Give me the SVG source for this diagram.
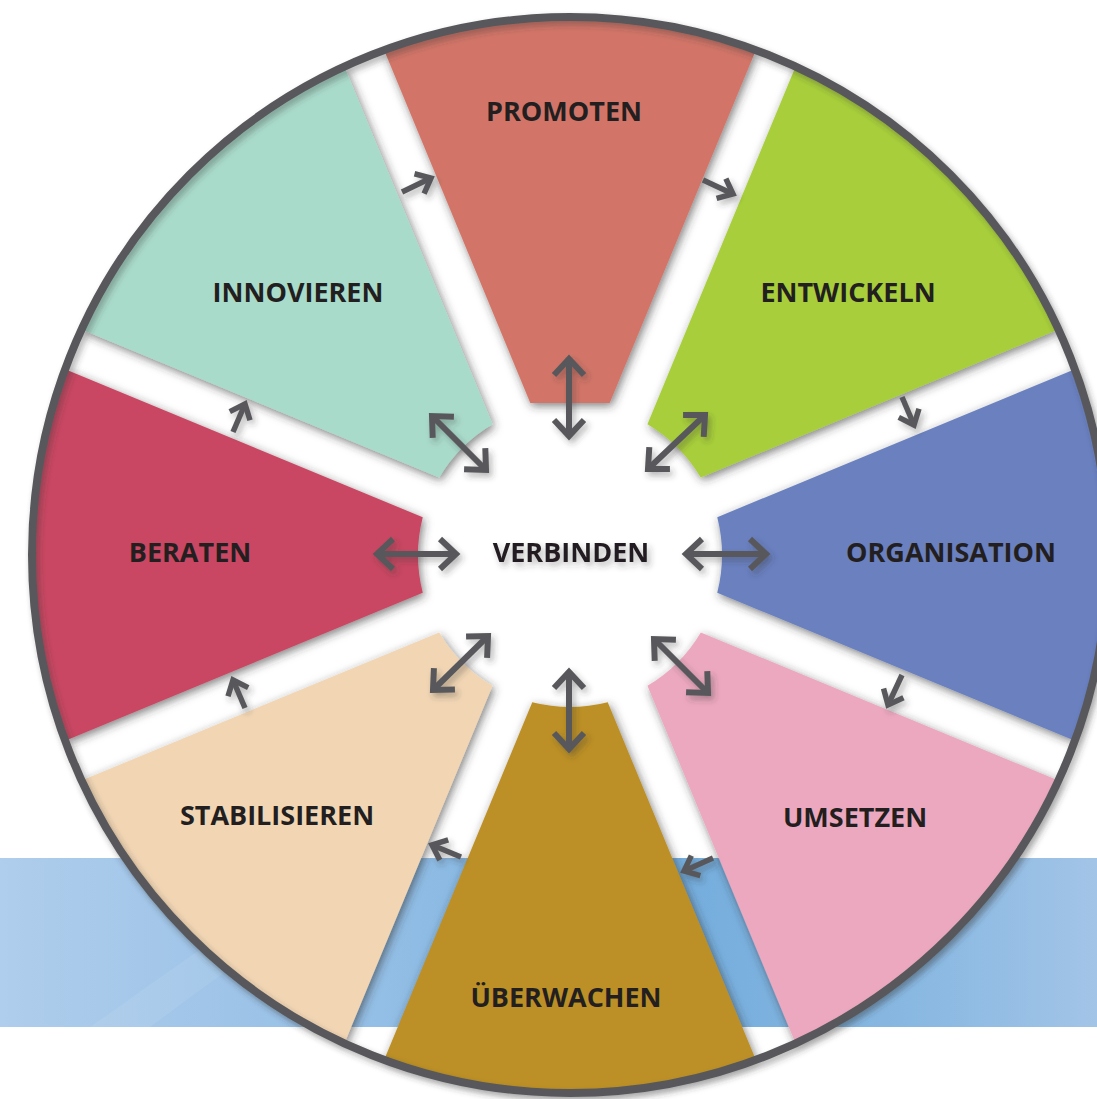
<svg xmlns="http://www.w3.org/2000/svg" xmlns:xlink="http://www.w3.org/1999/xlink" width="1097" height="1099" viewBox="0 0 1097 1099">
  <style>
    .label { font-family: "Open Sans", "Noto Sans", "Liberation Sans", sans-serif; font-weight: 700; font-size: 27px; fill: #231f20; text-anchor: middle; }
    .big { fill: none; stroke: #58595b; stroke-width: 6; marker-start: url(#headBig); marker-end: url(#headBig); }
    .small { fill: none; stroke: #58595b; stroke-width: 5.5; marker-end: url(#headSmall); }
  </style>
  <defs>
    <linearGradient id="band" x1="0" y1="0" x2="1" y2="0">
      <stop offset="0" stop-color="#afcdec"/>
      <stop offset="0.35" stop-color="#93bee5"/>
      <stop offset="0.6" stop-color="#72acdc"/>
      <stop offset="0.85" stop-color="#8bb9e2"/>
      <stop offset="1" stop-color="#a2c4e7"/>
    </linearGradient>
    <filter id="shadow" x="-20%" y="-20%" width="140%" height="140%">
      <feDropShadow dx="2" dy="3" stdDeviation="5" flood-color="#2d2d2d" flood-opacity="0.6"/>
    </filter>
    <filter id="softShadow" x="-30%" y="-30%" width="160%" height="160%">
      <feDropShadow dx="3" dy="4" stdDeviation="3" flood-color="#333" flood-opacity="0.35"/>
    </filter>
    <!-- sector wedge, pointing up, centred on the wheel hub -->
    <path id="wedge" d="M -37.72 -147.25 L -185.09 -503.03 A 536 536 0 0 1 185.09 -503.03 L 37.72 -147.25 A 152 152 0 0 0 -37.72 -147.25 Z"/>
    <marker id="headBig" markerUnits="userSpaceOnUse" viewBox="-30 -30 40 60" refX="0" refY="0" markerWidth="40" markerHeight="60" orient="auto-start-reverse" overflow="visible">
      <path d="M -16 -15 L 0 0 L -16 15" fill="none" stroke="#58595b" stroke-width="6"/>
    </marker>
    <marker id="headSmall" markerUnits="userSpaceOnUse" viewBox="-25 -25 35 50" refX="0" refY="0" markerWidth="35" markerHeight="50" orient="auto" overflow="visible">
      <path d="M -13 -11 L 0 0 L -13 11" fill="none" stroke="#58595b" stroke-width="5.5"/>
    </marker>
  </defs>

  <rect width="1097" height="1099" fill="#ffffff"/>
  <!-- blue band behind the wheel -->
  <rect x="0" y="858" width="1097" height="169" fill="url(#band)"/>
  <polygon points="90,1027 330,858 380,858 150,1027" fill="#ffffff" opacity="0.08"/>

  <!-- sectors -->
  <g id="promoten">
    <g filter="url(#shadow)">
      <path transform="translate(570 555)" d="M -39.7 -152 L -185.09 -503.03 A 536 536 0 0 1 185.09 -503.03 L 39.7 -152 Z" fill="#d27567"/>
    </g>
    <text class="label" x="564" y="121">PROMOTEN</text>
  </g>
  <g id="entwickeln">
    <g filter="url(#shadow)">
      <use href="#wedge" transform="translate(570 555) rotate(45)" fill="#a8cf3a"/>
    </g>
    <text class="label" x="848" y="302">ENTWICKELN</text>
  </g>
  <g id="organisation">
    <g filter="url(#shadow)">
      <use href="#wedge" transform="translate(570 555) rotate(90)" fill="#6a80bf"/>
    </g>
    <text class="label" x="951" y="562">ORGANISATION</text>
  </g>
  <g id="umsetzen">
    <g filter="url(#shadow)">
      <use href="#wedge" transform="translate(570 555) rotate(135)" fill="#eca8bf"/>
    </g>
    <text class="label" x="855" y="827">UMSETZEN</text>
  </g>
  <g id="ueberwachen">
    <g filter="url(#shadow)">
      <use href="#wedge" transform="translate(570 555) rotate(180)" fill="#bc9028"/>
    </g>
    <text class="label" x="566" y="1007">ÜBERWACHEN</text>
  </g>
  <g id="stabilisieren">
    <g filter="url(#shadow)">
      <use href="#wedge" transform="translate(570 555) rotate(225)" fill="#f2d6b4"/>
    </g>
    <text class="label" x="277" y="825">STABILISIEREN</text>
  </g>
  <g id="beraten">
    <g filter="url(#shadow)">
      <use href="#wedge" transform="translate(570 555) rotate(270)" fill="#c94762"/>
    </g>
    <text class="label" x="190" y="562">BERATEN</text>
  </g>
  <g id="innovieren">
    <g filter="url(#shadow)">
      <use href="#wedge" transform="translate(570 555) rotate(315)" fill="#a9dbcb"/>
    </g>
    <text class="label" x="298" y="302">INNOVIEREN</text>
  </g>

  <!-- wheel rim -->
  <circle cx="570" cy="555" r="538" fill="none" stroke="#58595b" stroke-width="8" filter="url(#softShadow)"/>

  <!-- hub -->
  <g id="verbinden">
    <text class="label" x="571" y="562" filter="url(#softShadow)">VERBINDEN</text>
  </g>

  <!-- connectors -->
  <g id="connectors" filter="url(#softShadow)">
    <!-- hub to each sector, two-way -->
    <line class="big" x1="569" y1="436" x2="569" y2="359"/>
    <line class="big" x1="569" y1="672" x2="569" y2="749"/>
    <line class="big" x1="456" y1="554" x2="377" y2="554"/>
    <line class="big" x1="686" y1="554" x2="766" y2="554"/>
    <line class="big" x1="486" y1="470" x2="432" y2="416"/>
    <line class="big" x1="648" y1="469" x2="705" y2="415"/>
    <line class="big" x1="488" y1="636" x2="433" y2="690"/>
    <line class="big" x1="654" y1="639" x2="708" y2="693"/>
    <!-- clockwise steps between neighbouring sectors -->
    <line class="small" x1="402" y1="192" x2="431" y2="178"/>
    <line class="small" x1="703" y1="180" x2="733" y2="194"/>
    <line class="small" x1="902" y1="397" x2="914" y2="425"/>
    <line class="small" x1="902" y1="675" x2="888" y2="705"/>
    <line class="small" x1="713" y1="858" x2="684" y2="871"/>
    <line class="small" x1="461" y1="857" x2="432" y2="845"/>
    <line class="small" x1="245" y1="708" x2="233" y2="680"/>
    <line class="small" x1="233" y1="432" x2="245" y2="404"/>
  </g>
</svg>
